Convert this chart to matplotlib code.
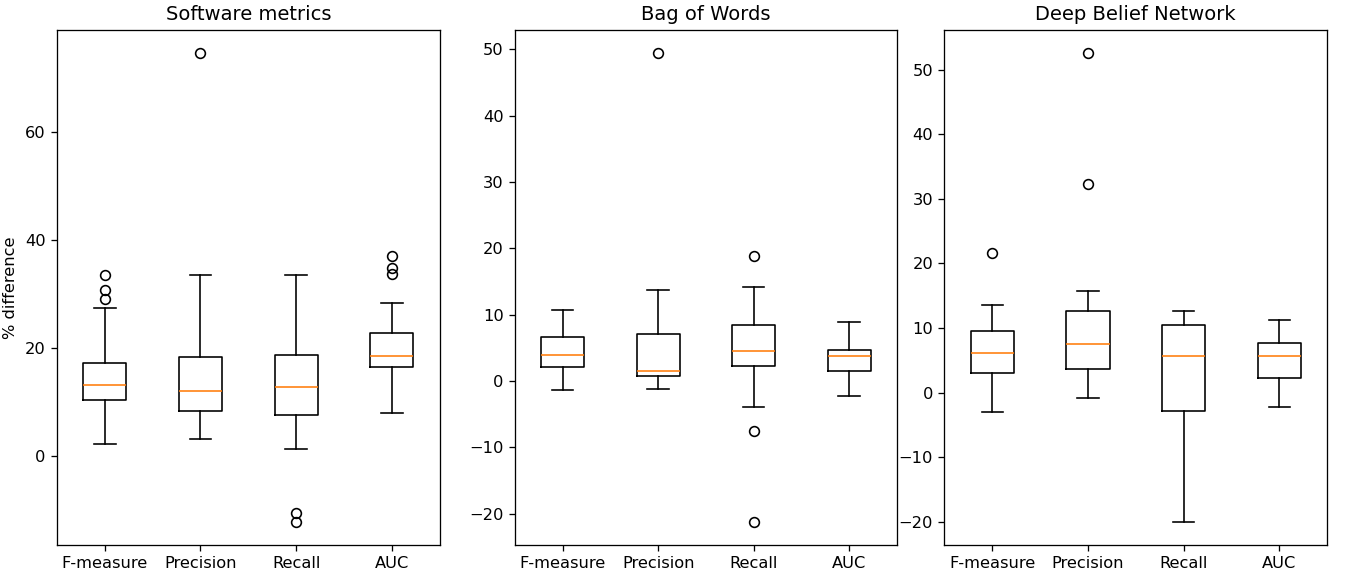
import matplotlib
matplotlib.use("Agg")
import matplotlib.pyplot as plt

metrics = ["F-measure", "Precision", "Recall", "AUC"]
titles = ["Software metrics", "Bag of Words", "Deep Belief Network"]

# box statistics per panel: [F-measure, Precision, Recall, AUC]
whislo = [[2.2, 3.1, 1.3, 8.0],
          [-1.4, -1.2, -3.9, -2.3],
          [-3.1, -0.9, -20.0, -2.2]]
q1 = [[10.4, 8.3, 7.6, 16.5],
      [2.1, 0.8, 2.3, 1.5],
      [3.1, 3.6, -2.8, 2.3]]
med = [[13.1, 11.9, 12.8, 18.5],
       [3.9, 1.5, 4.5, 3.8],
       [6.1, 7.5, 5.6, 5.6]]
q3 = [[17.2, 18.3, 18.7, 22.8],
      [6.6, 7.1, 8.4, 4.7],
      [9.6, 12.7, 10.4, 7.6]]
whishi = [[27.4, 33.5, 33.5, 28.3],
          [10.7, 13.7, 14.2, 8.9],
          [13.5, 15.7, 12.7, 11.2]]
fliers = [[[33.5, 30.7, 29.1], [74.6], [-10.7, -12.2], [37.0, 34.8, 33.7]],
          [[], [49.4], [18.8, -7.5, -21.2], []],
          [[21.6], [32.3, 52.6], [], []]]

dpi = 117
fig = plt.figure(figsize=(1357 / dpi, 573 / dpi), dpi=dpi)
positions = [[0.042, 0.049, 0.282, 0.899],
             [0.3795, 0.049, 0.2815, 0.899],
             [0.696, 0.049, 0.282, 0.899]]

for p in range(3):
    ax = fig.add_axes(positions[p])
    stats = []
    for i, name in enumerate(metrics):
        stats.append(dict(label=name, whislo=whislo[p][i], q1=q1[p][i],
                          med=med[p][i], q3=q3[p][i], whishi=whishi[p][i],
                          fliers=fliers[p][i]))
    ax.bxp(stats, showfliers=True)
    ax.set_title(titles[p])
    if p == 0:
        ax.set_ylabel("% difference")

fig.savefig("out.png", dpi=dpi)
